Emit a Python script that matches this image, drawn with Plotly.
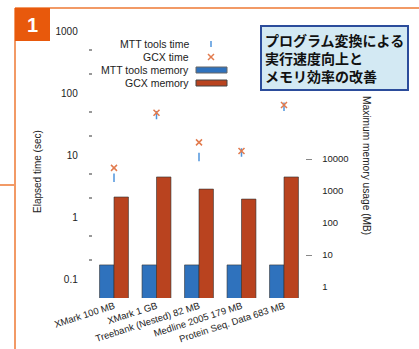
import plotly.graph_objects as go

W, H = 419, 349

categories = ["XMark 100 MB", "XMark 1 GB", "Treebank (Nested) 82 MB",
              "Medline 2005 179 MB", "Protein Seq. Data 683 MB"]
mtt_time = [4.3, 44, 9.3, 11, 60]          # sec
gcx_time = [6.2, 48, 16, 11.6, 64]         # sec
mtt_memory = [4.9, 4.9, 4.9, 4.9, 4.9]     # MB
gcx_memory = [650, 2750, 1150, 560, 2750]  # MB

time_ticks = [0.1, 1, 10, 100, 1000]
time_tick_text = ["0.1", "1", "10", "100", "1000"]
time_minor = [0.2, 0.5, 2, 5, 20, 50, 200, 500]
mem_ticks = [1, 10, 100, 1000, 10000]
mem_tick_text = ["1", "10", "100", "1000", "10000"]

legend_labels = ["MTT tools time", "GCX time", "MTT tools memory", "GCX memory"]

BLUE = "#2f72bd"
RED = "#b9431f"
BLUE_PT = "#4f94dc"
RED_PT = "#e27b4e"
FONT = "Liberation Sans"

def px(x):
    return x / W

def py(y):
    return 1 - y / H

fig = go.Figure()
fig.add_trace(go.Bar(x=categories, y=mtt_memory, name=legend_labels[2],
                     marker=dict(color=BLUE, line=dict(color="rgba(50,50,50,0.6)", width=1)),
                     yaxis="y"))
fig.add_trace(go.Bar(x=categories, y=gcx_memory, name=legend_labels[3],
                     marker=dict(color=RED, line=dict(color="rgba(50,50,50,0.6)", width=1)),
                     yaxis="y"))
fig.add_trace(go.Scatter(x=categories, y=mtt_time, name=legend_labels[0], mode="markers",
                         marker=dict(symbol="line-ns", size=6,
                                     line=dict(color=BLUE_PT, width=1.5)),
                         yaxis="y2"))
fig.add_trace(go.Scatter(x=categories, y=gcx_time, name=legend_labels[1], mode="markers",
                         marker=dict(symbol="x-thin", size=6,
                                     line=dict(color=RED_PT, width=1.5)),
                         yaxis="y2"))

x0, x1 = 92.75, 305.25
ytop, ybot = 25, 298

fig.update_layout(
    width=W, height=H,
    margin=dict(l=0, r=0, t=0, b=0),
    paper_bgcolor="white", plot_bgcolor="white",
    showlegend=False,
    barmode="group", bargap=0.32, bargroupgap=0,
    font=dict(family=FONT, size=9, color="#222"),
    xaxis=dict(domain=[px(x0), px(x1)], range=[-0.5, 4.5], tickangle=-18,
               showline=False, showgrid=False, ticks="", automargin=False,
               tickfont=dict(size=9.5, color="#222")),
    yaxis=dict(domain=[py(ybot), py(ytop)], type="log", side="right",
               range=[-0.344, 8.19], tickvals=mem_ticks, ticktext=mem_tick_text,
               ticks="outside", ticklen=0, ticklabelstandoff=14,
               showgrid=False, showline=False, zeroline=False, automargin=False,
               minor=dict(tickvals=[10, 10000], ticks="outside", ticklen=6,
                          tickcolor="#888", tickwidth=1, showgrid=False),
               tickfont=dict(size=9.5, color="#222")),
    yaxis2=dict(type="log", side="left", overlaying="y", anchor="x",
                range=[-1.306, 3.097], tickvals=time_ticks, ticktext=time_tick_text,
                ticks="outside", ticklen=0, ticklabelstandoff=12,
                showgrid=False, showline=False, zeroline=False, automargin=False,
                minor=dict(tickvals=time_minor, ticks="outside", ticklen=3,
                           tickcolor="#999", tickwidth=1.5, showgrid=False),
                tickfont=dict(size=10, color="#222")),
)

shapes = []
annos = []
ORANGE_LINE = "#f29a66"
# page frame
shapes.append(dict(type="line", xref="paper", yref="paper", x0=px(15), x1=px(419),
                   y0=py(8), y1=py(8), line=dict(color=ORANGE_LINE, width=2)))
shapes.append(dict(type="line", xref="paper", yref="paper", x0=px(15), x1=px(15),
                   y0=py(8), y1=py(349), line=dict(color=ORANGE_LINE, width=2)))
shapes.append(dict(type="line", xref="paper", yref="paper", x0=px(0), x1=px(15),
                   y0=py(185), y1=py(185), line=dict(color=ORANGE_LINE, width=2)))
# badge
shapes.append(dict(type="rect", xref="paper", yref="paper", x0=px(15), x1=px(50),
                   y0=py(41), y1=py(8), fillcolor="#e8590c", line=dict(width=0)))
annos.append(dict(xref="paper", yref="paper", x=px(32.5), y=py(25), text="<b>1</b>",
                  showarrow=False, font=dict(family="Liberation Sans", size=20, color="white"),
                  xanchor="center", yanchor="middle"))

# manual legend (text on the left, symbol on the right)
leg_y = [44, 57, 70, 83]
for lab, yy in zip(legend_labels, leg_y):
    annos.append(dict(xref="paper", yref="paper", x=px(191), y=py(yy), text=lab,
                      showarrow=False, xanchor="right", yanchor="middle",
                      font=dict(family=FONT, size=10.5, color="#222")))
shapes.append(dict(type="line", xref="paper", yref="paper", x0=px(211), x1=px(211),
                   y0=py(41), y1=py(47), line=dict(color=BLUE_PT, width=1.5)))
shapes.append(dict(type="line", xref="paper", yref="paper", x0=px(208), x1=px(214),
                   y0=py(54), y1=py(60), line=dict(color=RED_PT, width=1.5)))
shapes.append(dict(type="line", xref="paper", yref="paper", x0=px(208), x1=px(214),
                   y0=py(60), y1=py(54), line=dict(color=RED_PT, width=1.5)))
shapes.append(dict(type="rect", xref="paper", yref="paper", x0=px(196), x1=px(227),
                   y0=py(73), y1=py(67), fillcolor=BLUE, line=dict(color="#666", width=1)))
shapes.append(dict(type="rect", xref="paper", yref="paper", x0=px(196), x1=px(227),
                   y0=py(86), y1=py(80), fillcolor=RED, line=dict(color="#444", width=1)))

# axis titles
annos.append(dict(xref="paper", yref="paper", x=px(37), y=py(172), text="Elapsed time (sec)",
                  textangle=-90, showarrow=False, xanchor="center", yanchor="middle",
                  font=dict(family=FONT, size=10, color="#222")))
annos.append(dict(xref="paper", yref="paper", x=px(366), y=py(165),
                  text="Maximum memory usage (MB)",
                  textangle=90, showarrow=False, xanchor="center", yanchor="middle",
                  font=dict(family=FONT, size=10.2, color="#222")))

# title box
annos.append(dict(xref="paper", yref="paper", x=px(260), y=py(25),
                  xanchor="left", yanchor="top", align="left", showarrow=False,
                  text="<b>プログラム変換による<br>実行速度向上と<br>メモリ効率の改善</b>",
                  font=dict(family="Noto Sans CJK JP", size=14, color="#111"),
                  bgcolor="#d3e9f3", bordercolor="#2b4c9b", borderwidth=2, borderpad=3))

fig.update_layout(shapes=shapes, annotations=annos)
fig.write_html("out.html")
